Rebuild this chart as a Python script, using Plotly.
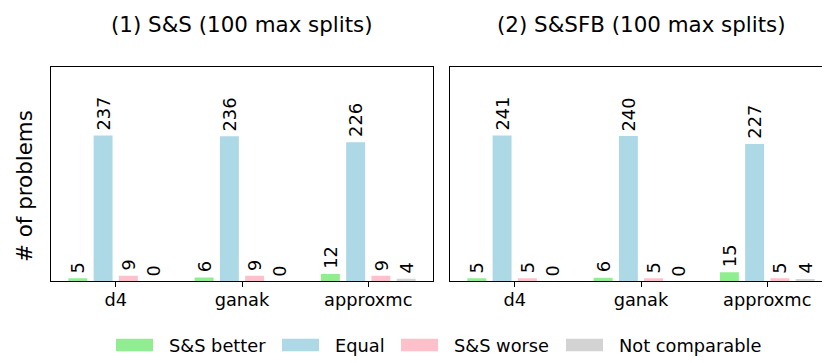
import plotly.graph_objects as go

# ---------------- data ----------------
solvers = ["d4", "ganak", "approxmc"]
series = ["S&S better", "Equal", "S&S worse", "Not comparable"]
colors = ["#90EE90", "#ADD8E6", "#FFC0CB", "#D3D3D3"]
titles = ["(1) S&S (100 max splits)", "(2) S&SFB (100 max splits)"]
y_label = "# of problems"

ss_better = [5, 6, 12]
ss_equal = [237, 236, 226]
ss_worse = [9, 9, 9]
ss_not_comparable = [0, 0, 4]

sfb_better = [5, 6, 15]
sfb_equal = [241, 240, 227]
sfb_worse = [5, 5, 5]
sfb_not_comparable = [0, 0, 4]

panels = [
    [ss_better, ss_equal, ss_worse, ss_not_comparable],
    [sfb_better, sfb_equal, sfb_worse, sfb_not_comparable],
]

# ---------------- layout helpers ----------------
W, H = 830, 363
FONT = "DejaVu Sans"
FS = 17.8
TFS = 21.4


def fx(px):
    return px / W


def fy(py):
    return 1 - py / H


x_domains = [[fx(43), fx(425)], [fx(442), fx(824)]]
y_domain = [fy(273.3), fy(59)]
bar_offsets = [-0.3, -0.1, 0.1, 0.3]

fig = go.Figure()
annotations = []

for p, data in enumerate(panels):
    xa = "x" if p == 0 else "x2"
    ya = "y" if p == 0 else "y2"
    for s, vals in enumerate(data):
        fig.add_trace(go.Bar(
            x=solvers, y=vals, name=series[s],
            marker=dict(color=colors[s], line=dict(width=0)),
            xaxis=xa, yaxis=ya, showlegend=False,
        ))
        for i, v in enumerate(vals):
            annotations.append(dict(
                x=i + bar_offsets[s], y=v, xref=xa, yref=ya,
                text=str(v), textangle=-90, showarrow=False,
                xanchor="center", yanchor="bottom", yshift=3,
                font=dict(family=FONT, size=FS, color="black"),
            ))
    # title
    annotations.append(dict(
        x=(x_domains[p][0] + x_domains[p][1]) / 2, y=fy(16),
        xref="paper", yref="paper", text=titles[p], showarrow=False,
        xanchor="center", yanchor="middle",
        font=dict(family=FONT, size=TFS, color="black"),
    ))

# y label
annotations.append(dict(
    x=fx(16), y=fy(178), xref="paper", yref="paper", text=y_label,
    textangle=-90, showarrow=False, xanchor="center", yanchor="middle",
    font=dict(family=FONT, size=TFS, color="black"),
))

# custom legend (matplotlib-style wide patches)
legend_patch_x = [108, 274, 393, 558]
shapes = []
for s, name in enumerate(series):
    x0 = legend_patch_x[s]
    shapes.append(dict(
        type="rect", xref="paper", yref="paper",
        x0=fx(x0), x1=fx(x0 + 37), y0=fy(343.3), y1=fy(330.7),
        fillcolor=colors[s], line=dict(width=0),
    ))
    annotations.append(dict(
        x=fx(x0 + 51), y=fy(337.5), xref="paper", yref="paper",
        text=name, showarrow=False, xanchor="left", yanchor="middle",
        font=dict(family=FONT, size=FS, color="black"),
    ))

axis_common = dict(
    showline=True, linecolor="black", linewidth=1.3, mirror=True,
    showgrid=False, zeroline=False,
)

for p in range(2):
    ymax = max(max(v) for v in panels[p]) * 1.47
    xkey = "xaxis" if p == 0 else "xaxis2"
    ykey = "yaxis" if p == 0 else "yaxis2"
    fig.update_layout({
        xkey: dict(
            domain=x_domains[p], anchor="y" if p == 0 else "y2",
            type="category", range=[-0.5125, 2.5125],
            ticks="outside", ticklen=5, tickwidth=1.3, tickcolor="black",
            ticklabelstandoff=-3,
            tickfont=dict(family=FONT, size=FS, color="black"),
            **axis_common,
        ),
        ykey: dict(
            domain=y_domain, anchor="x" if p == 0 else "x2",
            range=[0, ymax], showticklabels=False, ticks="",
            **axis_common,
        ),
    })

fig.update_layout(
    width=W, height=H,
    margin=dict(l=0, r=0, t=0, b=0),
    paper_bgcolor="white", plot_bgcolor="white",
    barmode="group", bargap=0.2, bargroupgap=0.25,
    annotations=annotations, shapes=shapes,
    showlegend=False,
    font=dict(family=FONT, size=FS, color="black"),
)

fig.write_html("out.html")
